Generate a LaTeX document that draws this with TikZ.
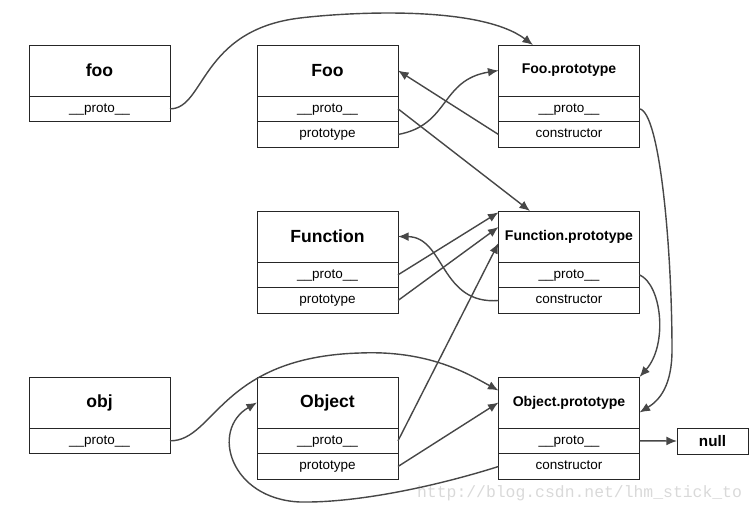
\documentclass[tikz,border=0pt]{standalone}
\usepackage{fontspec}
\setmainfont{Liberation Sans}
\setmonofont{Liberation Mono}
\usetikzlibrary{positioning,calc,arrows.meta}

\begin{document}
\begin{tikzpicture}
  [x=0.03cm,y=-0.03cm,>={Latex[length=9pt,width=7.5pt]},
   head/.style={draw=black!85,line width=0.75pt,outer sep=0pt,inner sep=0pt,
     minimum width=4.23cm,minimum height=1.53cm,font=\fontsize{15}{18}\selectfont\bfseries},
   longhead/.style={head,font=\fontsize{12}{14}\selectfont\bfseries},
   slot/.style={draw=black!85,line width=0.75pt,outer sep=0pt,inner sep=0pt,
     minimum width=4.23cm,minimum height=0.77cm,text height=8pt,text depth=2.4pt,
     font=\fontsize{11.5}{13}\selectfont},
   link/.style={->,draw=black!72,line width=1.2pt}]

  \useasboundingbox (0,0) rectangle (754,510);

  % left column
  \node[head] (foo) at (99.5,70.5) {foo};
  \node[slot,below=0pt of foo] (fooproto) {\_\_proto\_\_};

  \node[head] (obj) at (99.5,402.5) {obj};
  \node[slot,below=0pt of obj] (objproto) {\_\_proto\_\_};

  % middle column
  \node[head] (Foo) at (327.5,70.5) {Foo};
  \node[slot,below=0pt of Foo] (Fooproto) {\_\_proto\_\_};
  \node[slot,below=0pt of Fooproto] (Fooprototype) {prototype};

  \node[head] (Fn) at (327.5,236.5) {Function};
  \node[slot,below=0pt of Fn] (Fnproto) {\_\_proto\_\_};
  \node[slot,below=0pt of Fnproto] (Fnprototype) {prototype};

  \node[head] (Obj) at (327.5,402.5) {Object};
  \node[slot,below=0pt of Obj] (Objproto) {\_\_proto\_\_};
  \node[slot,below=0pt of Objproto] (Objprototype) {prototype};

  % right column
  \node[longhead] (FooP) at (569,70.5) {Foo.prototype};
  \node[slot,below=0pt of FooP] (FooPproto) {\_\_proto\_\_};
  \node[slot,below=0pt of FooPproto] (FooPctor) {constructor};

  \node[longhead] (FnP) at (569,236.5) {Function.prototype};
  \node[slot,below=0pt of FnP] (FnPproto) {\_\_proto\_\_};
  \node[slot,below=0pt of FnPproto] (FnPctor) {constructor};

  \node[longhead] (ObjP) at (569,402.5) {Object.prototype};
  \node[slot,below=0pt of ObjP] (ObjPproto) {\_\_proto\_\_};
  \node[slot,below=0pt of ObjPproto] (ObjPctor) {constructor};

  \node[draw=black!85,line width=0.75pt,outer sep=0pt,minimum width=2.13cm,minimum height=0.78cm,
    font=\fontsize{13}{15}\selectfont\bfseries] (null) at (712.5,441) {null};

  \node[anchor=base west,text=black!15,font=\ttfamily\fontsize{14}{16}\selectfont]
    (mark) at (413,497) {http://blog.csdn.net/lhm\_stick\_to};

  % links
  \draw[link] (fooproto.east) .. controls (205,109) and (200,30) .. (300,18)
    .. controls (350,12) and (480,5) .. ([xshift=-1.08cm]FooP.north);
  \draw[link] (FooPctor.west) -- (Foo.east);
  \draw[link] (Fooprototype.east) .. controls (450,125) and (440,80) .. (FooP.west);
  \draw[link] (Fooproto.east) -- ([xshift=-1.17cm]FnP.north);
  \draw[link] (Fnproto.east) -- ([yshift=-0.04cm]FnP.north west);
  \draw[link] (Fnprototype.east) -- ([yshift=-0.48cm]FnP.north west);
  \draw[link] (Objproto.east) -- ([yshift=-0.96cm]FnP.north west);
  \draw[link] (FnPctor.west) .. controls (440,305) and (445,237) .. (Fn.east);
  \draw[link] (Objprototype.east) -- (ObjP.west);
  \draw[link] (objproto.east) .. controls (215,441) and (220,357) .. (360,353)
    .. controls (430,350) and (470,375) .. ([yshift=0.36cm]ObjP.west);
  \draw[link] (ObjPctor.west) .. controls (440,485) and (360,503) .. (300,502)
    .. controls (230,499) and (210,430) .. (Obj.west);
  \draw[link] (FooPproto.east) .. controls (660,112) and (672,250) .. (672,350)
    .. controls (672,385) and (660,400) .. ([yshift=-0.3cm]ObjP.east);
  \draw[link] (FnPproto.east) .. controls (662,285) and (668,345) .. (ObjP.north east);
  \draw[link] (ObjPproto.east) -- (null.west);
\end{tikzpicture}
\end{document}
